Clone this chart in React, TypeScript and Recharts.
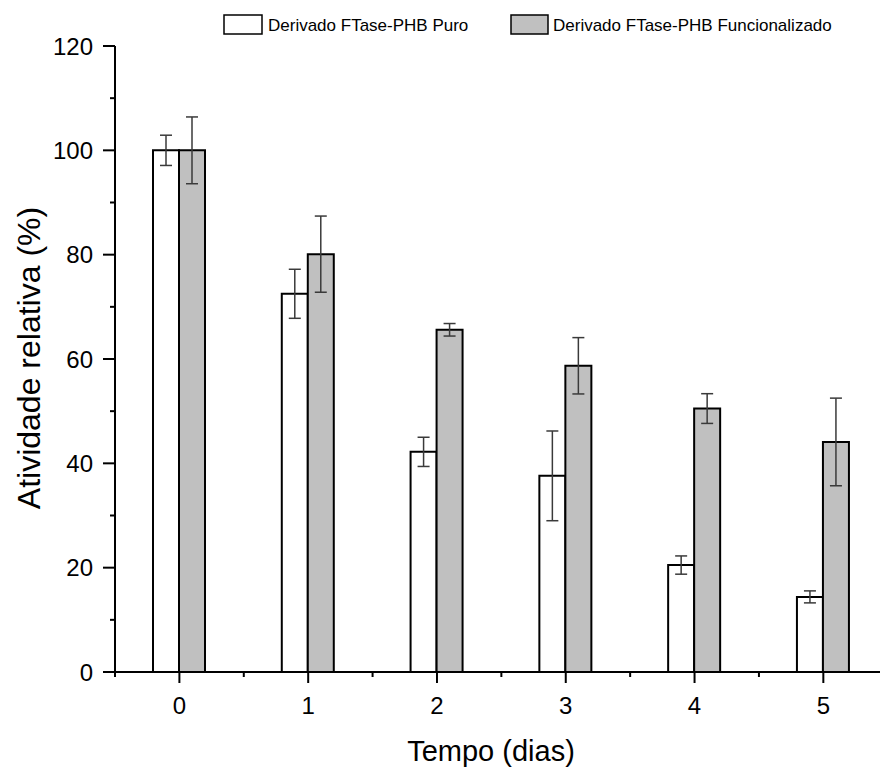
import React from 'react';
import { BarChart, Bar, XAxis, YAxis, ErrorBar, Legend, Label } from 'recharts';

const days = [0, 1, 2, 3, 4, 5];
const puro = [100, 72.5, 42.2, 37.6, 20.5, 14.4];
const puroErr = [2.9, 4.7, 2.8, 8.6, 1.75, 1.15];
const func = [100, 80.1, 65.6, 58.7, 50.5, 44.1];
const funcErr = [6.4, 7.3, 1.2, 5.4, 2.85, 8.4];
const xTicks = [-0.5, 0, 0.5, 1, 1.5, 2, 2.5, 3, 3.5, 4, 4.5, 5];
const yTicks = [0, 10, 20, 30, 40, 50, 60, 70, 80, 90, 100, 110, 120];
const seriesNames = ['Derivado FTase-PHB Puro', 'Derivado FTase-PHB Funcionalizado'];

const data = days.map((d, i) => ({
  day: d,
  puro: puro[i],
  puroErr: puroErr[i],
  func: func[i],
  funcErr: funcErr[i],
}));

const FONT = "Arial, 'Liberation Sans', sans-serif";

const XTick = (props: any) => {
  const { x, y, payload } = props;
  const v = payload.value;
  const major = Number.isInteger(v);
  return (
    <g>
      <line x1={x} x2={x} y1={y} y2={y + (major ? 11 : 5)} stroke="#000" strokeWidth={2} />
      {major && (
        <text x={x} y={y + 33} textAnchor="middle" dominantBaseline="central" fontSize={24} fontFamily={FONT} fill="#000">
          {v}
        </text>
      )}
    </g>
  );
};

const YTick = (props: any) => {
  const { x, y, payload } = props;
  const v = payload.value;
  const major = v % 20 === 0;
  return (
    <g>
      <line x1={x - (major ? 12 : 5)} x2={x} y1={y} y2={y} stroke="#000" strokeWidth={2} />
      {major && (
        <text x={x - 22} y={y} textAnchor="end" dominantBaseline="central" fontSize={24} fontFamily={FONT} fill="#000">
          {v}
        </text>
      )}
    </g>
  );
};

const LegendContent = () => (
  <svg width={880} height={46} style={{ display: 'block' }}>
    <rect x={224} y={15} width={38} height={19} fill="#fff" stroke="#000" strokeWidth={1.5} />
    <text x={268} y={25} dominantBaseline="central" fontSize={17} fontFamily={FONT} fill="#000">
      {seriesNames[0]}
    </text>
    <rect x={511} y={15} width={37} height={19} fill="#c0c0c0" stroke="#000" strokeWidth={1.5} />
    <text x={553} y={25} dominantBaseline="central" fontSize={17} fontFamily={FONT} fill="#000">
      {seriesNames[1]}
    </text>
  </svg>
);

export default function App() {
  return (
    <div style={{ position: 'absolute', left: 0, top: 0, width: 880, height: 767, background: '#fff' }}>
      <BarChart
        width={880}
        height={767}
        data={data}
        margin={{ top: 46, right: 0, bottom: 0, left: 0 }}
        barGap={0}
        barSize={26}
      >
        <XAxis
          dataKey="day"
          type="number"
          domain={[-0.5, 5.44]}
          ticks={xTicks}
          allowDataOverflow
          interval={0}
          tickSize={0}
          tickMargin={0}
          tickLine={false}
          axisLine={{ stroke: '#000', strokeWidth: 2 }}
          tick={<XTick />}
          height={95}
        >
          <Label
            content={() => (
              <text x={491} y={751} textAnchor="middle" dominantBaseline="central" fontSize={29} fontFamily={FONT} fill="#000">
                Tempo (dias)
              </text>
            )}
          />
        </XAxis>
        <YAxis
          type="number"
          domain={[0, 120]}
          ticks={yTicks}
          interval={0}
          tickSize={0}
          tickMargin={0}
          tickLine={false}
          axisLine={{ stroke: '#000', strokeWidth: 2 }}
          tick={<YTick />}
          width={115}
        >
          <Label
            content={() => (
              <text
                x={29}
                y={358}
                transform="rotate(-90 29 358)"
                textAnchor="middle"
                dominantBaseline="central"
                fontSize={32}
                fontFamily={FONT}
                fill="#000"
              >
                Atividade relativa (%)
              </text>
            )}
          />
        </YAxis>
        <Legend
          layout="horizontal"
          verticalAlign="middle"
          align="center"
          wrapperStyle={{ top: 0, left: 0, width: 880, height: 46 }}
          content={<LegendContent />}
        />
        <Bar dataKey="puro" name={seriesNames[0]} fill="#ffffff" stroke="#000" strokeWidth={2} isAnimationActive={false}>
          <ErrorBar dataKey="puroErr" direction="y" width={6} stroke="#3a3a3a" strokeWidth={1.5} isAnimationActive={false} />
        </Bar>
        <Bar dataKey="func" name={seriesNames[1]} fill="#c0c0c0" stroke="#000" strokeWidth={2} isAnimationActive={false}>
          <ErrorBar dataKey="funcErr" direction="y" width={6} stroke="#3a3a3a" strokeWidth={1.5} isAnimationActive={false} />
        </Bar>
      </BarChart>
    </div>
  );
}
